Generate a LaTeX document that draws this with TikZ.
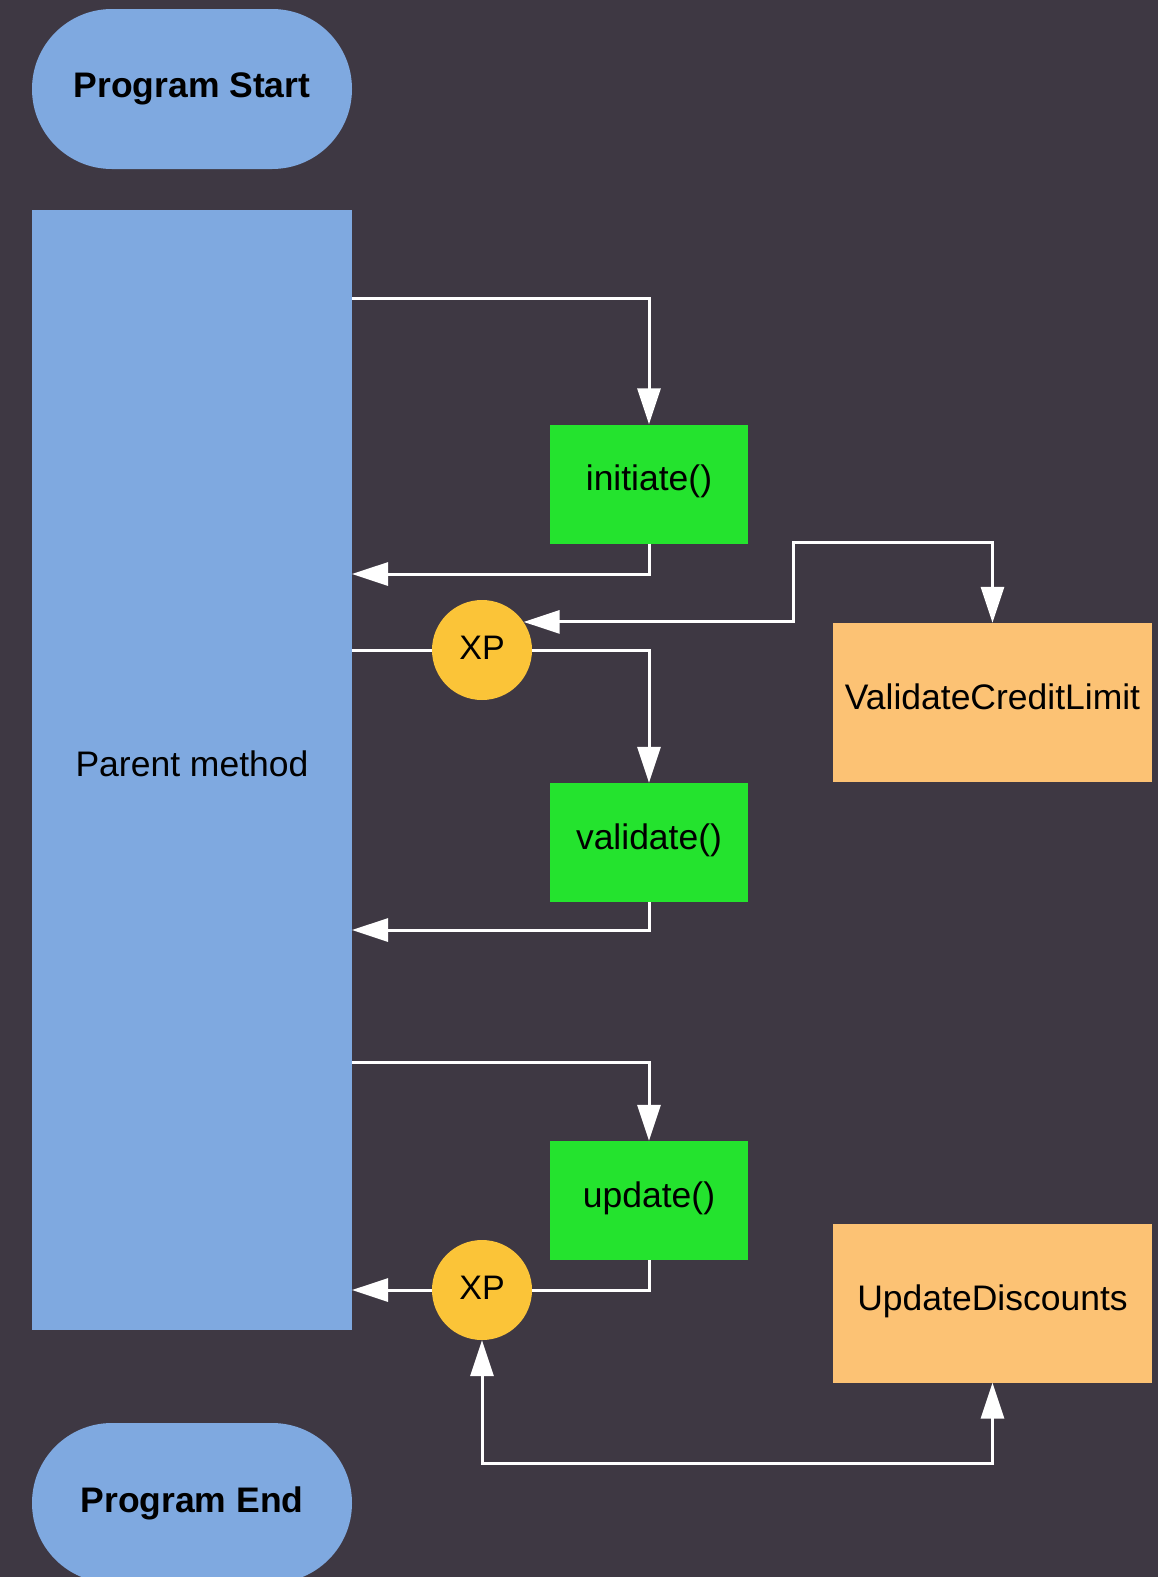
\documentclass[tikz,border=0pt]{standalone}
\usepackage{fontspec}
\setmainfont{Liberation Sans}
\usetikzlibrary{arrows.meta,calc}
\definecolor{bg}{HTML}{3E3843}
\definecolor{pblue}{HTML}{7FA9E0}
\definecolor{pgreen}{HTML}{24E32E}
\definecolor{porange}{HTML}{FCC274}
\definecolor{pyellow}{HTML}{FBC438}
\begin{document}
\begin{tikzpicture}[x=1pt,y=-1pt,
  terminal/.style={fill=pblue,draw=none,rounded corners=79.9pt,minimum width=320pt,minimum height=160pt,inner sep=0pt,font=\fontsize{35.5}{40}\selectfont\bfseries},
  parentbox/.style={fill=pblue,draw=none,minimum width=320pt,minimum height=1120pt,inner sep=0pt,text height=27pt,text depth=14pt,font=\fontsize{35.5}{40}\selectfont},
  methodbox/.style={fill=pgreen,draw=none,minimum width=198pt,minimum height=119pt,inner sep=0pt,text height=27pt,text depth=14pt,font=\fontsize{35.5}{40}\selectfont},
  extbox/.style={fill=porange,draw=none,minimum width=319pt,minimum height=159pt,inner sep=0pt,text height=27pt,text depth=13pt,font=\fontsize{35.5}{40}\selectfont},
  xpnode/.style={circle,fill=pyellow,draw=none,minimum size=100pt,inner sep=0pt,text height=24pt,text depth=6pt,font=\fontsize{34}{38}\selectfont},
  conn/.style={draw=white,line width=3pt},
  arr/.style={conn,-{Triangle[length=36pt,width=23pt,fill=white]}},
  arrtwo/.style={conn,{Triangle[length=36pt,width=23pt,fill=white]}-{Triangle[length=36pt,width=23pt,fill=white]}}
]
\useasboundingbox (0,0) rectangle (1158,1577);
\clip (0,0) rectangle (1158,1577);
\fill[bg] (0,0) rectangle (1158,1577);

\node[terminal] (start) at (192,89) {Program Start};
\node[parentbox] (parent) at (192,770) {Parent method};
\node[terminal] (end) at (192,1503) {Program End};

\node[methodbox] (init) at (649,484) {initiate()};
\node[methodbox] (val) at (649,842.5) {validate()};
\node[methodbox] (upd) at (649,1200.5) {update()};

\node[extbox] (vcl) at (992.5,702.5) {ValidateCreditLimit};
\node[extbox] (ud) at (992.5,1303) {UpdateDiscounts};

\node[xpnode] (xp1) at (482,650) {XP};
\node[xpnode] (xp2) at (482,1290) {XP};

\coordinate (p1) at (352,298);
\coordinate (p2) at (352,574);
\coordinate (p3) at (352,650);
\coordinate (c4) at (793,542);
\coordinate (p5) at (352,930);
\coordinate (p6) at (352,1062);
\coordinate (p7) at (352,1290);
\coordinate (c8) at (482,1463);

\draw[arr] (p1) -| (init.north);
\draw[arr] (init.south) |- (p2);
\draw[conn] (p3) -- (xp1.west);
\draw[arr] (xp1.east) -| (val.north);
\draw[arrtwo] (xp1.34) -| (c4) -| (vcl.north);
\draw[arr] (val.south) |- (p5);
\draw[arr] (p6) -| (upd.north);
\draw[conn] (upd.south) |- (xp2.east);
\draw[arr] (xp2.west) -- (p7);
\draw[arrtwo] (xp2.south) -- (c8) -| (ud.south);
\end{tikzpicture}
\end{document}
